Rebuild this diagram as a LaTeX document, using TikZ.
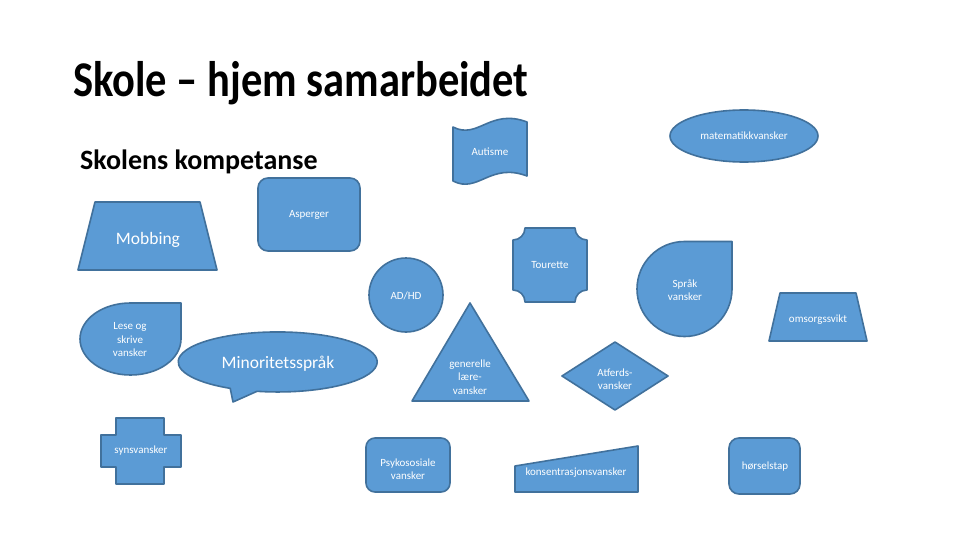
\documentclass[tikz,border=0pt]{standalone}
\usepackage{fontspec}
\setmainfont{Carlito}
\usepackage{graphicx}
\definecolor{shapefill}{HTML}{5B9BD5}
\definecolor{shapeline}{HTML}{41719C}
\tikzset{
  shp/.style={fill=shapefill, draw=shapeline, line width=1.6pt, line join=round},
  lbl/.style={text=white, font=\fontsize{11}{13.5}\selectfont, align=center, inner sep=0pt},
  biglbl/.style={text=white, font=\fontsize{17.5}{20}\selectfont, inner sep=0pt},
}
\begin{document}
\begin{tikzpicture}[x=1pt,y=-1pt]
\useasboundingbox (0,0) rectangle (960,540);
\fill[white] (0,0) rectangle (960,540);

% titles
\node[anchor=base west, inner sep=0pt] (title) at (73,97)
  {\scalebox{0.85}[1]{\fontsize{50}{60}\selectfont\bfseries Skole – hjem samarbeidet}};
\node[anchor=base west, inner sep=0pt] (sub) at (80,170)
  {\fontsize{28}{34}\selectfont\bfseries Skolens kompetanse};

% Autisme (wave)
\draw[shp] (453,127) .. controls (478,140) and (490,108) .. (527,122)
  -- (527,176) .. controls (490,162) and (478,194) .. (453,181) -- cycle;
% matematikkvansker
\draw[shp] (744,136) ellipse[x radius=74, y radius=26];
% Asperger
\draw[shp, rounded corners=10pt] (258,178) rectangle (360,251);
% Mobbing
\draw[shp] (95,202) -- (200,202) -- (217,270) -- (78,270) -- cycle;
% Tourette (plaque)
\draw[shp] (525,228) -- (575,228) arc[start angle=180, end angle=90, radius=12]
  -- (587,290) arc[start angle=270, end angle=180, radius=12]
  -- (525,302) arc[start angle=0, end angle=-90, radius=12]
  -- (513,240) arc[start angle=90, end angle=0, radius=12] -- cycle;
% AD/HD
\draw[shp] (406,295) circle[radius=37];
% Sprak vansker (teardrop)
\draw[shp] (684.5,241.5) arc[start angle=270, end angle=0, radius=47.5]
  -- (732,241.5) -- cycle;
% omsorgssvikt
\draw[shp] (780,293) -- (856,293) -- (867,341) -- (769,341) -- cycle;
% Lese og skrive (teardrop)
\draw[shp] (130.5,303) arc[start angle=270, end angle=0, x radius=50.5, y radius=36]
  -- (181,303) -- cycle;
% Minoritetssprak (callout)
\draw[shp] (257,391.3) arc[start angle=102, end angle=-241.5, x radius=99.5, y radius=30]
  -- (233,402) -- cycle;
% generelle laerevansker (triangle)
\draw[shp] (470,303) -- (529,401) -- (412,401) -- cycle;
% Atferds-vansker (diamond)
\draw[shp] (615,342) -- (668,376) -- (615,410) -- (562,376) -- cycle;
% synsvansker (cross)
\draw[shp] (116,418) -- (164,418) -- (164,435) -- (181,435) -- (181,467) -- (164,467)
  -- (164,484) -- (116,484) -- (116,467) -- (101,467) -- (101,435) -- (116,435) -- cycle;
% Psykososiale vansker
\draw[shp, rounded corners=9pt] (366,438) rectangle (450,492);
% konsentrasjonsvansker (manual input)
\draw[shp] (515,466) -- (638,446) -- (638,492) -- (515,492) -- cycle;
% horselstap
\draw[shp, rounded corners=10pt] (729,438) rectangle (800,494);

% labels
\node[lbl] (autisme) at (490,152) {Autisme};
\node[lbl] (matte) at (744,136) {matematikkvansker};
\node[lbl] (asperger) at (309,215) {Asperger};
\node[biglbl] (mobbing) at (148,240) {Mobbing};
\node[lbl] (tourette) at (550,265) {Tourette};
\node[lbl] (adhd) at (406,296) {AD/HD};
\node[lbl] (spraak) at (685,290) {Språk\\vansker};
\node[lbl] (omsorg) at (818,320) {omsorgssvikt};
\node[lbl] (lese) at (130,340) {Lese og\\skrive\\vansker};
\node[biglbl] (minor) at (278,364) {Minoritetsspråk};
\node[lbl] (generelle) at (470,377) {generelle\\lære-\\vansker};
\node[lbl] (atferd) at (615,379) {Atferds-\\vansker};
\node[lbl] (syn) at (141,451) {synsvansker};
\node[lbl] (psyko) at (408,469) {Psykososiale\\vansker};
\node[lbl] (kons) at (576,473) {konsentrasjonsvansker};
\node[lbl] (horsel) at (765,467) {hørselstap};
\end{tikzpicture}
\end{document}
